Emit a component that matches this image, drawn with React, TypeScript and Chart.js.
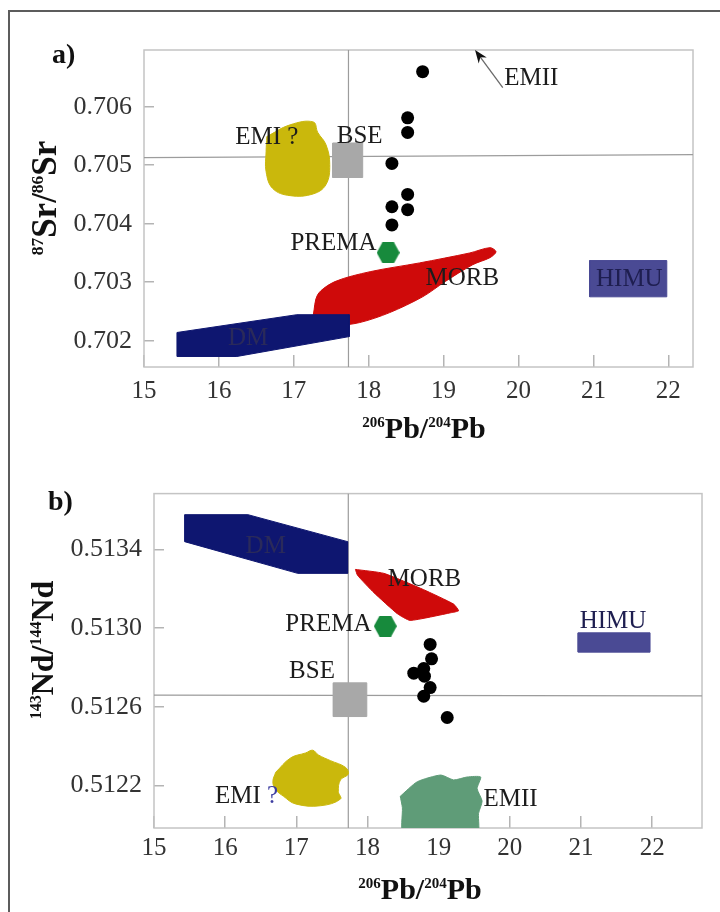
import React, { useEffect, useRef } from "react";
import { Chart, registerables } from "chart.js";

Chart.register(...registerables);

const SERIF = '"Liberation Serif", "Times New Roman", Times, serif';

type XY = [number, number];

// ---------- axes ----------
const pbTicks = [15, 16, 17, 18, 19, 20, 21, 22];
const srTicks = [0.702, 0.703, 0.704, 0.705, 0.706];
const srTickLabels = ["0.702", "0.703", "0.704", "0.705", "0.706"];
const ndTicks = [0.5122, 0.5126, 0.513, 0.5134];
const ndTickLabels = ["0.5122", "0.5126", "0.5130", "0.5134"];

const pbRangeA = [15, 22.33];
const srRange = [0.70155, 0.70697];
const pbRangeB = [15, 22.7];
const ndRange = [0.511985, 0.513683];

// ---------- samples ----------
const samplePbA = [18.72, 18.52, 18.52, 18.31, 18.52, 18.31, 18.52, 18.31];
const sampleSr = [0.7066, 0.70581, 0.70556, 0.70503, 0.7045, 0.70429, 0.70424, 0.70398];
const samplePbB = [18.88, 18.9, 18.79, 18.65, 18.8, 18.88, 18.79, 19.12];
const sampleNd = [0.512917, 0.512844, 0.512795, 0.512771, 0.512756, 0.512698, 0.512654, 0.512546];

// ---------- bulk silicate earth reference lines ----------
const bsePb = 17.73;
const bseSrLine: XY[] = [[15, 0.70513], [22.33, 0.70518]];
const bseNdLine: XY[] = [[15, 0.51266], [22.7, 0.512656]];

// ---------- mantle end-member fields: Pb vs Sr ----------
const dmSr: XY[] = [[15.44, 0.70214], [17.04, 0.702444], [17.74, 0.702444], [17.74, 0.70207], [16.24, 0.70173], [15.44, 0.70173]];
const morbSr: XY[] = [
  [17.26, 0.70244], [17.32, 0.70279], [17.55, 0.70301], [18.02, 0.70318], [18.68, 0.70333], [19.35, 0.7035],
  [19.62, 0.70359], [19.7, 0.70352], [19.62, 0.70342], [19.39, 0.7033], [19.02, 0.70301], [18.72, 0.70275],
  [18.28, 0.70248], [17.88, 0.70231], [17.55, 0.70226], [17.32, 0.70232],
];
const emiSr: XY[] = [
  [16.64, 0.70549], [16.95, 0.70569], [17.26, 0.70574], [17.32, 0.70556], [17.43, 0.70535], [17.48, 0.70501],
  [17.43, 0.70467], [17.26, 0.70451], [16.95, 0.70448], [16.72, 0.7046], [16.63, 0.70489], [16.63, 0.70523],
];
const bseBoxPbA = [17.52, 17.92];
const bseBoxSr = [0.70479, 0.70538];
const himuBoxPbA = [20.95, 21.98];
const himuBoxSr = [0.70275, 0.70337];
const premaSr: XY = [18.26, 0.703504];

// ---------- mantle end-member fields: Pb vs Nd ----------
const dmNd: XY[] = [[15.43, 0.513576], [16.32, 0.513576], [17.72, 0.513439], [17.72, 0.513278], [17.02, 0.513278], [15.43, 0.513439]];
const morbNd: XY[] = [
  [17.83, 0.513298], [18.23, 0.513278], [18.79, 0.513195], [19.21, 0.513122], [19.28, 0.513088],
  [19.17, 0.513078], [18.6, 0.513039], [18.42, 0.513073], [18.09, 0.51318], [17.86, 0.513268],
];
const emiNd: XY[] = [
  [16.71, 0.512268], [16.92, 0.512341], [17.13, 0.512366], [17.23, 0.51238], [17.31, 0.512356], [17.48, 0.512327],
  [17.69, 0.512293], [17.73, 0.512259], [17.62, 0.512229], [17.59, 0.512171], [17.62, 0.512132], [17.34, 0.512098],
  [16.99, 0.512107], [16.82, 0.512146], [16.71, 0.51218], [16.67, 0.51222],
];
const emiiNd: XY[] = [
  [18.46, 0.512146], [18.7, 0.51222], [19.03, 0.512254], [19.21, 0.512229], [19.4, 0.512244], [19.59, 0.512244],
  [19.54, 0.512185], [19.61, 0.512122], [19.56, 0.512059], [19.54, 0.51195], [18.51, 0.51195], [18.49, 0.512088],
];
const bseBoxPbB = [17.52, 17.99];
const bseBoxNd = [0.512551, 0.512722];
const himuBoxPbB = [20.96, 21.97];
const himuBoxNd = [0.512878, 0.512976];
const premaNd: XY = [18.25, 0.51301];

// ---------- field names ----------
type Tag = { text: string; pb: number; v: number };
const tagsSr: Tag[] = [
  { text: "EMI ?", pb: 16.64, v: 0.70547 },
  { text: "BSE", pb: 17.88, v: 0.705487 },
  { text: "PREMA", pb: 17.53, v: 0.703658 },
  { text: "MORB", pb: 19.25, v: 0.70306 },
  { text: "DM", pb: 16.39, v: 0.702034 },
  { text: "HIMU", pb: 21.48, v: 0.703043 },
  { text: "EMII", pb: 20.17, v: 0.706479 },
];
const tagsNd: Tag[] = [
  { text: "DM", pb: 16.57, v: 0.513415 },
  { text: "MORB", pb: 18.8, v: 0.513249 },
  { text: "PREMA", pb: 17.45, v: 0.51302 },
  { text: "HIMU", pb: 21.45, v: 0.513034 },
  { text: "BSE", pb: 17.22, v: 0.51278 },
  { text: "EMI ?", pb: 16.3, v: 0.512146 },
  { text: "EMII", pb: 20.01, v: 0.512132 },
];
// EMII lies off-scale in the Sr panel: arrow from its name towards it
const emiiPointerSr: XY[] = [[19.79, 0.706325], [19.42, 0.70697]];

// ---------- styling ----------
const COLORS = {
  dm: "#0e1670",
  morb: "#cf0a0a",
  emi: "#cab80c",
  emii: "#5f9c78",
  bse: "#a8a8a8",
  himu: "#4a4a94",
  prema: "#178a3c",
  sample: "#000000",
  refLine: "#9c9c9c",
  frame: "#c4c4c4",
  tick: "#b4b4b4",
  tickLabel: "#333333",
  ink: "#1c1c1c",
};
const tagInk: Record<string, string> = { DM: "#2a2a5a", HIMU: "#1e1e50" };

function hexSprite(w: number, h: number, color: string) {
  const c = document.createElement("canvas");
  c.width = w;
  c.height = h;
  const g = c.getContext("2d")!;
  g.fillStyle = color;
  g.beginPath();
  g.moveTo(0, h / 2);
  g.lineTo(w / 4, 0);
  g.lineTo((3 * w) / 4, 0);
  g.lineTo(w, h / 2);
  g.lineTo((3 * w) / 4, h);
  g.lineTo(w / 4, h);
  g.closePath();
  g.fill();
  return c;
}

function field(points: XY[], color: string, order: number, tension = 0) {
  const data = [...points, points[0]].map(([x, y]) => ({ x, y }));
  return {
    data,
    showLine: true,
    fill: "shape",
    backgroundColor: color,
    borderColor: color,
    borderWidth: 1,
    pointRadius: 0,
    pointHoverRadius: 0,
    tension,
    order,
  };
}

function box(xs: number[], ys: number[], color: string, order: number) {
  return field([[xs[0], ys[0]], [xs[1], ys[0]], [xs[1], ys[1]], [xs[0], ys[1]]], color, order);
}

function refLine(points: XY[]) {
  return {
    data: points.map(([x, y]) => ({ x, y })),
    showLine: true,
    fill: false,
    borderColor: COLORS.refLine,
    borderWidth: 1.2,
    pointRadius: 0,
    pointHoverRadius: 0,
    order: 20,
  };
}

function samples(xs: number[], ys: number[]) {
  return {
    data: xs.map((x, i) => ({ x, y: ys[i] })),
    backgroundColor: COLORS.sample,
    borderWidth: 0,
    pointRadius: 6.5,
    pointHoverRadius: 6.5,
    order: 0,
  };
}

function prema(p: XY) {
  return {
    data: [{ x: p[0], y: p[1] }],
    pointStyle: hexSprite(23, 21, COLORS.prema),
    pointRadius: 11,
    pointHoverRadius: 11,
    order: 1,
  };
}

type Rich = [string, boolean][];

function drawRich(ctx: CanvasRenderingContext2D, parts: Rich, big: number, small: number) {
  const fBig = `bold ${big}px ${SERIF}`;
  const fSmall = `bold ${small}px ${SERIF}`;
  let total = 0;
  for (const [t, sup] of parts) {
    ctx.font = sup ? fSmall : fBig;
    total += ctx.measureText(t).width;
  }
  let x = -total / 2;
  ctx.textAlign = "left";
  ctx.textBaseline = "alphabetic";
  for (const [t, sup] of parts) {
    ctx.font = sup ? fSmall : fBig;
    ctx.fillText(t, x, sup ? -big * 0.36 : 0);
    x += ctx.measureText(t).width;
  }
}

type PanelSpec = {
  letter: string;
  letterPos: XY;
  xRange: number[];
  yRange: number[];
  yTicks: number[];
  yTickLabels: string[];
  area: { left: number; top: number; right: number; bottom: number };
  xTickPad: number;
  xTitle: Rich;
  xTitleX: number;
  yTitle: Rich;
  yTitlePos: XY;
  yTitleSize: number;
  tags: Tag[];
  questionInk: string;
  pointer?: XY[];
  datasets: () => any[];
};

const panelA: PanelSpec = {
  letter: "a)",
  letterPos: [52, 63],
  xRange: pbRangeA,
  yRange: srRange,
  yTicks: srTicks,
  yTickLabels: srTickLabels,
  area: { left: 144, top: 50, right: 693, bottom: 367 },
  xTickPad: 21,
  xTitle: [["206", true], ["Pb/", false], ["204", true], ["Pb", false]],
  xTitleX: 424,
  yTitle: [["87", true], ["Sr/", false], ["86", true], ["Sr", false]],
  yTitlePos: [56, 198],
  yTitleSize: 35,
  tags: tagsSr,
  questionInk: COLORS.ink,
  pointer: emiiPointerSr,
  datasets: () => [
    samples(samplePbA, sampleSr),
    prema(premaSr),
    field(dmSr, COLORS.dm, 2),
    field(morbSr, COLORS.morb, 3, 0.3),
    box(bseBoxPbA, bseBoxSr, COLORS.bse, 4),
    field(emiSr, COLORS.emi, 5, 0.4),
    box(himuBoxPbA, himuBoxSr, COLORS.himu, 6),
    refLine([[bsePb, srRange[0]], [bsePb, srRange[1]]]),
    refLine(bseSrLine),
  ],
};

const panelB: PanelSpec = {
  letter: "b)",
  letterPos: [48, 54],
  xRange: pbRangeB,
  yRange: ndRange,
  yTicks: ndTicks,
  yTickLabels: ndTickLabels,
  area: { left: 154, top: 24, right: 702, bottom: 372 },
  xTickPad: 17,
  xTitle: [["206", true], ["Pb/", false], ["204", true], ["Pb", false]],
  xTitleX: 420,
  yTitle: [["143", true], ["Nd/", false], ["144", true], ["Nd", false]],
  yTitlePos: [53, 194],
  yTitleSize: 32,
  tags: tagsNd,
  questionInk: "#3c3ca0",
  datasets: () => [
    samples(samplePbB, sampleNd),
    prema(premaNd),
    field(dmNd, COLORS.dm, 2),
    field(morbNd, COLORS.morb, 3, 0.15),
    box(bseBoxPbB, bseBoxNd, COLORS.bse, 4),
    field(emiNd, COLORS.emi, 5, 0.4),
    field(emiiNd, COLORS.emii, 6, 0.2),
    box(himuBoxPbB, himuBoxNd, COLORS.himu, 7),
    refLine([[bsePb, ndRange[0]], [bsePb, ndRange[1]]]),
    refLine(bseNdLine),
  ],
};

function decorations(spec: PanelSpec) {
  return {
    id: "decorations",
    beforeDatasetsDraw(chart: any) {
      const { ctx, chartArea: a } = chart;
      ctx.save();
      ctx.strokeStyle = COLORS.frame;
      ctx.lineWidth = 1.5;
      ctx.strokeRect(a.left, a.top, a.right - a.left, a.bottom - a.top);
      ctx.restore();
    },
    afterDatasetsDraw(chart: any) {
      const { ctx } = chart;
      const xs = chart.scales.x;
      const ys = chart.scales.y;
      ctx.save();
      ctx.font = `25px ${SERIF}`;
      ctx.textBaseline = "middle";
      ctx.textAlign = "left";
      for (const t of spec.tags) {
        const px = xs.getPixelForValue(t.pb);
        const py = ys.getPixelForValue(t.v);
        const ink = tagInk[t.text] || COLORS.ink;
        const q = t.text.endsWith("?");
        const main = q ? t.text.slice(0, -1) : t.text;
        const wMain = ctx.measureText(main).width;
        const wQ = q ? ctx.measureText("?").width : 0;
        const x0 = px - (wMain + wQ) / 2;
        ctx.fillStyle = ink;
        ctx.fillText(main, x0, py);
        if (q) {
          ctx.fillStyle = spec.questionInk;
          ctx.fillText("?", x0 + wMain, py);
        }
      }
      if (spec.pointer) {
        const [from, to] = spec.pointer;
        const x1 = xs.getPixelForValue(from[0]);
        const y1 = ys.getPixelForValue(from[1]);
        const x2 = xs.getPixelForValue(to[0]);
        const y2 = ys.getPixelForValue(to[1]);
        const ang = Math.atan2(y2 - y1, x2 - x1);
        const c = Math.cos(ang);
        const s = Math.sin(ang);
        ctx.strokeStyle = "#6a6a6a";
        ctx.lineWidth = 1.3;
        ctx.beginPath();
        ctx.moveTo(x1, y1);
        ctx.lineTo(x2 - 8 * c, y2 - 8 * s);
        ctx.stroke();
        ctx.fillStyle = "#111";
        ctx.beginPath();
        ctx.moveTo(x2, y2);
        ctx.lineTo(x2 - 13 * c + 5 * s, y2 - 13 * s - 5 * c);
        ctx.lineTo(x2 - 9 * c, y2 - 9 * s);
        ctx.lineTo(x2 - 13 * c - 5 * s, y2 - 13 * s + 5 * c);
        ctx.closePath();
        ctx.fill();
      }
      ctx.restore();
    },
    afterDraw(chart: any) {
      const { ctx, chartArea: a } = chart;
      ctx.save();
      ctx.fillStyle = "#111";
      // x title
      ctx.save();
      ctx.translate(spec.xTitleX, a.bottom + 71);
      drawRich(ctx, spec.xTitle, 30, 15);
      ctx.restore();
      // y title
      ctx.save();
      ctx.translate(spec.yTitlePos[0], spec.yTitlePos[1]);
      ctx.rotate(-Math.PI / 2);
      drawRich(ctx, spec.yTitle, spec.yTitleSize, spec.yTitleSize / 2);
      ctx.restore();
      // panel letter
      ctx.font = `bold 28px ${SERIF}`;
      ctx.textAlign = "left";
      ctx.textBaseline = "alphabetic";
      ctx.fillText(spec.letter, spec.letterPos[0], spec.letterPos[1]);
      ctx.restore();
    },
  };
}

const W = 720;
const H = 456;

function buildConfig(spec: PanelSpec): any {
  const a = spec.area;
  return {
    type: "scatter",
    data: { datasets: spec.datasets() },
    options: {
      responsive: false,
      animation: false,
      events: [],
      layout: { padding: { top: a.top, right: W - a.right, left: 0, bottom: 0 } },
      plugins: { legend: { display: false }, tooltip: { enabled: false } },
      scales: {
        x: {
          type: "linear",
          position: "bottom",
          min: spec.xRange[0],
          max: spec.xRange[1],
          afterBuildTicks: (s: any) => {
            s.ticks = pbTicks.map((v) => ({ value: v }));
          },
          afterFit: (s: any) => {
            s.height = H - a.bottom;
          },
          ticks: {
            callback: (v: number) => String(v),
            font: { family: SERIF, size: 25 },
            color: COLORS.tickLabel,
            padding: spec.xTickPad,
            maxRotation: 0,
            autoSkip: false,
          },
          grid: { drawOnChartArea: false, drawTicks: true, tickLength: -12, color: COLORS.tick, lineWidth: 1.5 },
          border: { display: false },
        },
        y: {
          type: "linear",
          position: "left",
          min: spec.yRange[0],
          max: spec.yRange[1],
          afterBuildTicks: (s: any) => {
            s.ticks = spec.yTicks.map((v) => ({ value: v }));
          },
          afterFit: (s: any) => {
            s.width = a.left;
          },
          ticks: {
            callback: (_v: number, i: number) => spec.yTickLabels[i],
            font: { family: SERIF, size: 26 },
            color: COLORS.tickLabel,
            padding: 22,
            autoSkip: false,
          },
          grid: { drawOnChartArea: false, drawTicks: true, tickLength: -10, color: COLORS.tick, lineWidth: 1.5 },
          border: { display: false },
        },
      },
    },
    plugins: [decorations(spec)],
  };
}

function PanelCanvas({ spec, top }: { spec: PanelSpec; top: number }) {
  const ref = useRef<HTMLCanvasElement>(null);
  useEffect(() => {
    const chart = new Chart(ref.current!, buildConfig(spec));
    return () => chart.destroy();
  }, [spec]);
  return (
    <canvas
      ref={ref}
      width={W}
      height={H}
      style={{ position: "absolute", left: 0, top, width: W, height: H, display: "block" }}
    />
  );
}

export default function App() {
  return (
    <div style={{ position: "absolute", left: 0, top: 0, width: 720, height: 912, overflow: "hidden", background: "#ffffff" }}>
      <div
        style={{
          position: "absolute",
          left: 8,
          top: 10,
          width: 730,
          height: 920,
          borderLeft: "2px solid #5c5c5c",
          borderTop: "2px solid #5c5c5c",
        }}
      />
      <PanelCanvas spec={panelA} top={0} />
      <PanelCanvas spec={panelB} top={H} />
    </div>
  );
}
